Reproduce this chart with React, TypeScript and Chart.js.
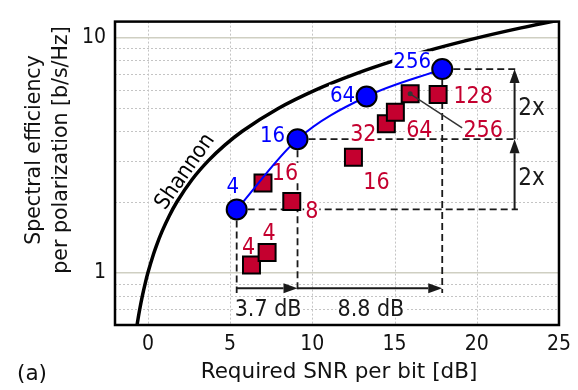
import { useEffect, useRef } from 'react';
import { Chart, registerables } from 'chart.js';

Chart.register(...registerables);

// Shannon limit: spectral efficiency per polarization [b/s/Hz] and required SNR per bit [dB]
const shannonEff = [0.6, 0.61, 0.65, 0.7, 0.8, 0.9, 1, 1.2, 1.3, 1.5, 1.75, 2, 2.5, 3, 3.5, 4, 5, 6, 7, 8, 9, 10, 11, 11.8, 12];
const shannonSnrDb = [-0.658, -0.642, -0.577, -0.496, -0.332, -0.166, 0, 0.339, 0.511, 0.86, 1.305, 1.761, 2.701, 3.68, 4.694, 5.74, 7.924, 10.212, 12.587, 15.034, 17.542, 20.099, 22.697, 24.8, 25.33];

// Square QAM (blue circles)
const qamOrders = ['4', '16', '64', '256'];
const qamSnrDb = [5.4, 9.1, 13.3, 17.9];
const qamEff = [1.86, 3.7, 5.62, 7.35];

// Measured formats (red squares)
const measOrders = ['4', '4', '8', '16', '16', '32', '64', '256', '128'];
const measSnrDb = [6.3, 7.25, 8.75, 7.0, 12.5, 14.5, 15.05, 15.95, 17.65];
const measEff = [1.08, 1.22, 2.01, 2.41, 3.1, 4.3, 4.82, 5.77, 5.73];

// Axes
const xTickValues = [0, 5, 10, 15, 20, 25];
const yTickValues = [1, 10];
const xGridValues = [0, 5, 10, 15, 20];
const yMajorGrid = [1, 10];
const yMinorGrid = [0.7, 0.8, 0.9, 2, 3, 4, 5, 6, 7, 8, 9];

const FONT = "'DejaVu Sans', Verdana, sans-serif";
const NARROW = "'DejaVu Sans Condensed', 'DejaVu Sans', sans-serif";
const RED = '#c4002f';
const BLUE = '#0000ff';
const INK = '#1a1a1a';

// label offsets in px from the marker centre
const qamLabelOffsets = [[-4, -24], [-25, -5], [-24, -3], [-30, -9]];
const measLabelOffsets = [[-3, -19], [2, -21], [20, 8], [22, -11], [23, 23], [-23, 9], [24, 16], [73, 35], [35, 0]];

type Ctx = CanvasRenderingContext2D;

function label(ctx: Ctx, s: string, x: number, y: number, color: string, size: number, bg = true) {
  ctx.save();
  ctx.font = `${size}px ${NARROW}`;
  const w = ctx.measureText(s).width;
  const h = size * 0.8;
  if (bg) {
    ctx.fillStyle = '#ffffff';
    ctx.fillRect(x - w / 2 - 1, y - h / 2, w + 2, h);
  }
  ctx.fillStyle = color;
  ctx.textAlign = 'center';
  ctx.textBaseline = 'alphabetic';
  ctx.fillText(s, x, y + size * 0.364);
  ctx.restore();
}

function arrow(ctx: Ctx, x0: number, y0: number, x1: number, y1: number) {
  const head = 14;
  const half = 5;
  const a = Math.atan2(y1 - y0, x1 - x0);
  const bx = x1 - head * Math.cos(a);
  const by = y1 - head * Math.sin(a);
  ctx.beginPath();
  ctx.moveTo(x0, y0);
  ctx.lineTo(bx, by);
  ctx.stroke();
  ctx.beginPath();
  ctx.moveTo(x1, y1);
  ctx.lineTo(bx + half * Math.sin(a), by - half * Math.cos(a));
  ctx.lineTo(bx - half * Math.sin(a), by + half * Math.cos(a));
  ctx.closePath();
  ctx.fill();
}

const gridPlugin = {
  id: 'logGrid',
  beforeDatasetsDraw(chart: any) {
    const { ctx, chartArea: a, scales } = chart;
    ctx.save();
    ctx.beginPath();
    ctx.rect(a.left, a.top, a.right - a.left, a.bottom - a.top);
    ctx.clip();
    ctx.strokeStyle = '#c4c4c4';
    ctx.lineWidth = 1;
    ctx.setLineDash([2, 2]);
    for (const v of yMinorGrid) {
      const y = Math.round(scales.y.getPixelForValue(v)) + 0.5;
      ctx.beginPath(); ctx.moveTo(a.left, y); ctx.lineTo(a.right, y); ctx.stroke();
    }
    for (const v of xGridValues) {
      const x = Math.round(scales.x.getPixelForValue(v)) + 0.5;
      ctx.beginPath(); ctx.moveTo(x, a.top); ctx.lineTo(x, a.bottom); ctx.stroke();
    }
    ctx.setLineDash([]);
    ctx.strokeStyle = '#cfcfc2';
    ctx.lineWidth = 1.5;
    for (const v of yMajorGrid) {
      const y = scales.y.getPixelForValue(v);
      ctx.beginPath(); ctx.moveTo(a.left, y); ctx.lineTo(a.right, y); ctx.stroke();
    }
    ctx.restore();
  },
};

const annotationPlugin = {
  id: 'annotations',
  // drawn right after the Shannon curve, beneath the markers
  afterDatasetDraw(chart: any, args: any) {
    if (args.index !== 2) return;
    const { ctx, scales } = chart;
    const X = (v: number) => scales.x.getPixelForValue(v);
    const Y = (v: number) => scales.y.getPixelForValue(v);
    ctx.save();
    ctx.strokeStyle = INK;
    ctx.fillStyle = INK;

    // dashed guides from the QAM points
    ctx.lineWidth = 1.8;
    ctx.setLineDash([7, 4]);
    const xRight = X(22.5);
    for (const i of [0, 1, 3]) {
      ctx.beginPath(); ctx.moveTo(X(qamSnrDb[i]), Y(qamEff[i])); ctx.lineTo(xRight, Y(qamEff[i])); ctx.stroke();
      ctx.beginPath(); ctx.moveTo(X(qamSnrDb[i]), Y(qamEff[i])); ctx.lineTo(X(qamSnrDb[i]), Y(0.82)); ctx.stroke();
    }
    ctx.setLineDash([]);

    // SNR gap arrows
    ctx.lineWidth = 2;
    const yArrow = Y(0.86);
    arrow(ctx, X(qamSnrDb[0]), yArrow, X(qamSnrDb[1]), yArrow);
    arrow(ctx, X(qamSnrDb[1]), yArrow, X(qamSnrDb[3]), yArrow);
    // efficiency ratio arrows
    const xArrow = X(22.3);
    arrow(ctx, xArrow, Y(qamEff[0]), xArrow, Y(qamEff[1]));
    arrow(ctx, xArrow, Y(qamEff[1]), xArrow, Y(qamEff[3]));
    ctx.restore();

    const gap1 = (qamSnrDb[1] - qamSnrDb[0]).toFixed(1) + ' dB';
    const gap2 = (qamSnrDb[3] - qamSnrDb[1]).toFixed(1) + ' dB';
    label(ctx, gap1, (X(qamSnrDb[0]) + X(qamSnrDb[1])) / 2 + 1, yArrow + 19, INK, 23);
    label(ctx, gap2, (X(qamSnrDb[1]) + X(qamSnrDb[3])) / 2 + 1, yArrow + 19, INK, 23);
    const r1 = Math.round(qamEff[1] / qamEff[0]) + 'x';
    const r2 = Math.round(qamEff[3] / qamEff[1]) + 'x';
    label(ctx, r1, xArrow + 17, Y(Math.sqrt(qamEff[0] * qamEff[1])) + 2, INK, 24, false);
    label(ctx, r2, xArrow + 17, Y(Math.sqrt(qamEff[1] * qamEff[3])) + 2, INK, 24, false);

    // point labels
    qamOrders.forEach((s, i) => {
      const [dx, dy] = qamLabelOffsets[i];
      label(ctx, s, X(qamSnrDb[i]) + dx, Y(qamEff[i]) + dy, BLUE, 22);
    });
    measOrders.forEach((s, i) => {
      const [dx, dy] = measLabelOffsets[i];
      label(ctx, s, X(measSnrDb[i]) + dx, Y(measEff[i]) + dy, RED, 23);
    });

    // curve name along the Shannon limit
    const k = 13;
    const sx = X(shannonSnrDb[k]) - 25;
    const sy = Y(shannonEff[k]) + 10;
    ctx.save();
    ctx.translate(sx, sy);
    ctx.rotate((-55 * Math.PI) / 180);
    label(ctx, 'Shannon', 0, 0, '#000', 22);
    ctx.restore();
  },
  afterDatasetsDraw(chart: any) {
    const { ctx, scales, chartArea: a } = chart;
    const X = (v: number) => scales.x.getPixelForValue(v);
    const Y = (v: number) => scales.y.getPixelForValue(v);
    // leader from the 256 square to its label
    const i = 7;
    const cx = X(measSnrDb[i]);
    const cy = Y(measEff[i]);
    ctx.save();
    ctx.strokeStyle = '#333';
    ctx.fillStyle = '#333';
    ctx.lineWidth = 1.5;
    ctx.beginPath(); ctx.moveTo(cx, cy); ctx.lineTo(cx + 52, cy + 34); ctx.stroke();
    ctx.beginPath(); ctx.arc(cx, cy, 2.5, 0, Math.PI * 2); ctx.fill();
    // plot frame
    ctx.strokeStyle = '#000';
    ctx.lineWidth = 2.5;
    ctx.strokeRect(a.left, a.top, a.right - a.left, a.bottom - a.top);
    ctx.restore();
  },
  afterDraw(chart: any) {
    const { ctx, chartArea: a } = chart;
    ctx.save();
    ctx.fillStyle = '#111';
    ctx.textAlign = 'center';
    ctx.textBaseline = 'alphabetic';
    ctx.font = `21.5px ${FONT}`;
    ctx.fillText('Required SNR per bit [dB]', (a.left + a.right) / 2 + 2, 378);
    ctx.fillText('(a)', 32, 380);
    ctx.translate(0, 150);
    ctx.rotate(-Math.PI / 2);
    ctx.font = `20.5px ${FONT}`;
    ctx.fillText('Spectral efficiency', 0, 40);
    ctx.fillText('per polarization [b/s/Hz]', 0, 67);
    ctx.restore();
  },
};

export default function App() {
  const ref = useRef<HTMLCanvasElement>(null);

  useEffect(() => {
    document.body.style.margin = '0';
    const chart = new Chart(ref.current as HTMLCanvasElement, {
      type: 'line',
      data: {
        datasets: [
          {
            data: qamSnrDb.map((x, i) => ({ x, y: qamEff[i] })),
            borderColor: BLUE,
            borderWidth: 2,
            showLine: true,
            cubicInterpolationMode: 'monotone',
            pointStyle: 'circle',
            pointRadius: 10,
            pointBackgroundColor: BLUE,
            pointBorderColor: '#000',
            pointBorderWidth: 2,
            clip: false,
          },
          {
            data: measSnrDb.map((x, i) => ({ x, y: measEff[i] })),
            showLine: false,
            pointStyle: 'rect',
            pointRadius: 12,
            pointBackgroundColor: RED,
            pointBorderColor: '#000',
            pointBorderWidth: 2,
            clip: false,
          },
          {
            data: shannonSnrDb.map((x, i) => ({ x, y: shannonEff[i] })),
            borderColor: '#000',
            borderWidth: 3.5,
            pointRadius: 0,
            cubicInterpolationMode: 'monotone',
          },
        ],
      },
      options: {
        animation: false,
        responsive: false,
        devicePixelRatio: 1,
        layout: { padding: { top: 7, right: 13, left: 0, bottom: 0 } },
        plugins: { legend: { display: false }, tooltip: { enabled: false } },
        events: [],
        scales: {
          x: {
            type: 'linear',
            min: -2,
            max: 25,
            afterBuildTicks: (s: any) => { s.ticks = xTickValues.map((value) => ({ value })); },
            afterFit: (s: any) => { s.height = 65; },
            grid: { display: false, drawTicks: false },
            border: { display: false },
            ticks: {
              autoSkip: false,
              maxRotation: 0,
              padding: 7,
              color: '#111',
              font: { family: NARROW, size: 21 },
              callback: (v: any) => String(v),
            },
          },
          y: {
            type: 'logarithmic',
            min: 0.611,
            max: 11.7,
            afterBuildTicks: (s: any) => { s.ticks = yTickValues.map((value) => ({ value })); },
            afterFit: (s: any) => { s.width = 115; },
            grid: { display: false, drawTicks: false },
            border: { display: false },
            ticks: {
              autoSkip: false,
              padding: 9,
              color: '#111',
              font: { family: NARROW, size: 21 },
              callback: (v: any) => String(v),
            },
          },
        },
      },
      plugins: [gridPlugin, annotationPlugin],
    } as any);
    return () => chart.destroy();
  }, []);

  return (
    <div style={{ width: 578, height: 390 }}>
      <canvas ref={ref} width={578} height={390} style={{ display: 'block' }} />
    </div>
  );
}
